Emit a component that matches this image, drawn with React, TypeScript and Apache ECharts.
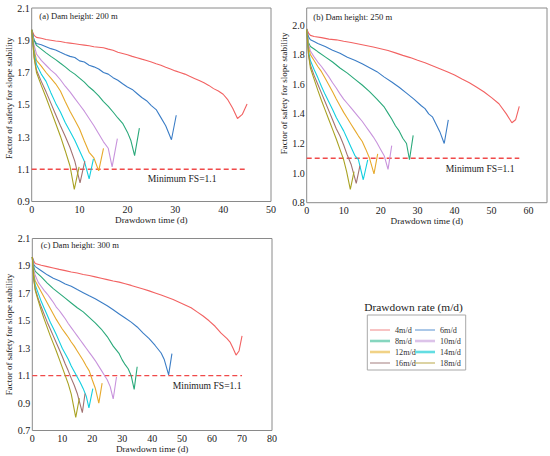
import React, { useEffect, useRef } from "react";
import * as echarts from "echarts";

const FONT = "Liberation Serif, Times New Roman, serif";

const rateNames = ["4m/d", "6m/d", "8m/d", "10m/d", "12m/d", "14m/d", "16m/d", "18m/d"];
const rateColors = ["#f26262", "#3b7dc6", "#2aa97a", "#c893dc", "#e7a92c", "#12cfe0", "#a27272", "#a9a223"];
const legendColors = ["#f5a3a3", "#7eaadc", "#86d6bf", "#dcc3e9", "#f1d286", "#63dde2", "#b99b9b", "#c9bb72"];
const legendWidths = [1.3, 1.3, 2.6, 2.6, 2.6, 2.6, 1.3, 1.3];

const panelTitles = ["(a) Dam height: 200 m", "(b) Dam height: 250 m", "(c) Dam height: 300 m"];
const minFsLabel = "Minimum FS=1.1";
const minFs = 1.1;

// Panel (a): dam height 200 m
const a4 = [[0,1.965],[0.5,1.93],[1,1.918],[2,1.912],[3,1.905],[4,1.9],[5,1.895],[6,1.892],[7,1.886],[8,1.882],[9,1.878],[10,1.874],[11,1.87],[12,1.866],[13,1.86],[14,1.857],[15,1.853],[16,1.845],[17,1.838],[18,1.826],[19,1.818],[20,1.81],[21,1.8],[22,1.792],[23,1.783],[24,1.775],[25,1.765],[26,1.754],[27,1.745],[28,1.733],[29,1.722],[30,1.71],[31,1.7],[32,1.69],[33,1.676],[34,1.663],[35,1.65],[36,1.636],[37,1.62],[38,1.6],[39,1.585],[40,1.565],[41,1.53],[42,1.478],[43,1.415],[44,1.44],[45,1.505]];
const a6 = [[0,1.965],[0.5,1.9],[1,1.88],[2,1.872],[3,1.86],[4,1.848],[5,1.84],[6,1.825],[7,1.812],[8,1.8],[9,1.793],[10,1.772],[11,1.765],[12,1.745],[13,1.735],[14,1.722],[15,1.7],[16,1.69],[17,1.668],[18,1.652],[19,1.63],[20,1.61],[21,1.595],[22,1.57],[23,1.545],[24,1.525],[25,1.495],[26,1.47],[27,1.42],[28,1.37],[29.2,1.283],[30.2,1.435]];
const a8 = [[0,1.965],[0.5,1.9],[1,1.868],[2,1.845],[3,1.822],[4,1.8],[5,1.78],[6,1.757],[7,1.735],[8,1.71],[9,1.69],[10,1.665],[11,1.64],[12,1.61],[13,1.585],[14,1.555],[15,1.52],[16,1.49],[17,1.455],[18,1.418],[19,1.385],[20,1.33],[20.7,1.28],[21.5,1.185],[22.5,1.355]];
const a10 = [[0,1.965],[0.5,1.87],[1,1.815],[2,1.775],[3,1.745],[4,1.715],[5,1.69],[6,1.655],[7,1.615],[8,1.58],[9,1.54],[10,1.5],[11,1.46],[12,1.415],[13,1.37],[14,1.32],[15,1.27],[16,1.23],[16.8,1.115],[17.9,1.29]];
const a12 = [[0,1.965],[0.5,1.84],[1,1.775],[2,1.74],[3,1.7],[4,1.665],[5,1.63],[6,1.585],[7,1.52],[8,1.46],[9,1.405],[10,1.35],[11,1.275],[12,1.205],[13,1.17],[14,1.09],[15,1.23]];
const a14 = [[0,1.965],[0.5,1.82],[1,1.75],[2,1.69],[3,1.645],[4,1.575],[5,1.51],[6,1.455],[7,1.39],[8,1.335],[9,1.28],[10,1.215],[11,1.15],[12,1.04],[12.9,1.165]];
const a16 = [[0,1.965],[0.5,1.8],[1,1.715],[2,1.645],[3,1.58],[4,1.51],[5,1.44],[6,1.37],[7,1.305],[8,1.235],[9,1.15],[10.1,1.015],[11.1,1.15]];
const a18 = [[0,1.965],[0.5,1.79],[1,1.7],[2,1.62],[3,1.545],[4,1.465],[5,1.385],[6,1.305],[7,1.215],[8,1.12],[8.9,0.975],[9.9,1.115]];
const minLineA = [[0, minFs], [45, minFs]];

// Panel (b): dam height 250 m
const b4 = [[0,1.975],[0.5,1.945],[1,1.93],[2,1.922],[4,1.915],[6,1.905],[8,1.9],[10,1.89],[12,1.882],[14,1.872],[16,1.862],[18,1.852],[20,1.84],[22,1.828],[24,1.812],[26,1.795],[28,1.78],[30,1.762],[32,1.745],[34,1.725],[36,1.705],[38,1.685],[40,1.662],[42,1.635],[44,1.61],[46,1.58],[48,1.548],[50,1.51],[52,1.468],[54,1.4],[55.5,1.34],[56.5,1.36],[57.5,1.45]];
const b6 = [[0,1.97],[0.5,1.92],[1,1.9],[2,1.888],[3,1.876],[5,1.855],[7,1.83],[9,1.81],[11,1.782],[13,1.762],[15,1.738],[17,1.712],[19,1.685],[21,1.648],[23,1.615],[25,1.58],[27,1.54],[29,1.5],[31,1.455],[32,1.435],[33,1.4],[34,1.38],[35,1.33],[36,1.28],[37.2,1.2],[38.3,1.36]];
const b8 = [[0,1.97],[0.5,1.88],[1,1.855],[2,1.838],[3,1.82],[5,1.785],[7,1.75],[9,1.71],[11,1.675],[13,1.635],[15,1.595],[17,1.55],[19,1.5],[21,1.445],[22,1.405],[23,1.365],[24,1.32],[25,1.285],[26,1.235],[27,1.2],[27.8,1.09],[28.8,1.255]];
const b10 = [[0,1.97],[0.5,1.87],[1,1.825],[2,1.785],[3,1.75],[4,1.72],[5,1.685],[6,1.65],[7,1.61],[8,1.575],[9,1.535],[10,1.5],[11,1.47],[12,1.44],[13,1.41],[14,1.38],[15,1.35],[16,1.315],[17,1.28],[18,1.245],[19,1.205],[20,1.16],[21,1.115],[22,1.025],[23,1.185]];
const b12 = [[0,1.97],[0.5,1.85],[1,1.8],[2,1.76],[3,1.72],[4,1.685],[5,1.64],[6,1.595],[7,1.55],[8,1.5],[9,1.455],[10,1.41],[11,1.37],[12,1.33],[13,1.29],[14,1.25],[15,1.215],[16,1.16],[17,1.1],[18.2,0.995],[19.2,1.13]];
const b14 = [[0,1.97],[0.5,1.82],[1,1.76],[2,1.7],[3,1.645],[4,1.585],[5,1.53],[6,1.48],[7,1.43],[8,1.375],[9,1.33],[10,1.285],[11,1.23],[12,1.175],[13,1.12],[14,1.09],[15.3,0.955],[16.5,1.09]];
const b16 = [[0,1.97],[0.5,1.8],[1,1.73],[2,1.66],[3,1.6],[4,1.54],[5,1.48],[6,1.42],[7,1.36],[8,1.3],[9,1.25],[10,1.19],[11,1.12],[12,1.06],[13.4,0.93],[14.4,1.05]];
const b18 = [[0,1.97],[0.5,1.8],[1,1.71],[2,1.635],[3,1.56],[4,1.49],[5,1.425],[6,1.36],[7,1.295],[8,1.23],[9,1.16],[10,1.09],[10.8,1.01],[11.8,0.89],[12.8,1.01]];
const minLineB = [[0, minFs], [57.5, minFs]];

// Panel (c): dam height 300 m
const c4 = [[0,1.965],[0.5,1.935],[1,1.918],[3,1.905],[5,1.895],[7,1.885],[9,1.875],[11,1.866],[13,1.856],[15,1.848],[17,1.838],[19,1.83],[21,1.82],[23,1.81],[25,1.8],[27,1.79],[29,1.782],[31,1.77],[33,1.758],[35,1.745],[37,1.732],[39,1.718],[41,1.703],[43,1.688],[45,1.672],[47,1.655],[49,1.635],[51,1.615],[53,1.595],[55,1.565],[57,1.535],[59,1.5],[61,1.46],[63,1.41],[65,1.37],[66,1.345],[67,1.3],[68,1.25],[69,1.28],[70,1.39]];
const c6 = [[0,1.965],[0.5,1.91],[1,1.895],[3,1.865],[5,1.835],[7,1.81],[9,1.792],[11,1.768],[13,1.752],[15,1.728],[17,1.705],[19,1.682],[21,1.66],[23,1.635],[25,1.61],[27,1.58],[29,1.55],[31,1.52],[33,1.49],[35,1.455],[37,1.41],[39,1.37],[41,1.32],[43,1.265],[44,1.22],[45.5,1.105],[46.6,1.26]];
const c8 = [[0,1.965],[0.5,1.89],[1,1.86],[2,1.84],[3,1.82],[5,1.775],[7,1.735],[9,1.7],[11,1.665],[13,1.63],[15,1.595],[17,1.565],[19,1.525],[21,1.485],[23,1.44],[25,1.385],[27,1.315],[29,1.26],[30,1.215],[31,1.18],[32,1.15],[33,1.1],[34,1.0],[35,1.165]];
const c10 = [[0,1.965],[0.5,1.87],[1,1.83],[2,1.78],[3,1.75],[4,1.72],[5,1.695],[6,1.665],[7,1.635],[8,1.6],[9,1.575],[10,1.545],[11,1.515],[12,1.48],[13,1.45],[14,1.42],[15,1.39],[16,1.36],[17,1.33],[18,1.3],[19,1.27],[20,1.24],[21,1.21],[22,1.175],[23,1.14],[24,1.105],[25,1.07],[26,1.02],[27,0.93],[28.1,1.09]];
const c12 = [[0,1.965],[0.5,1.84],[1,1.79],[2,1.75],[3,1.71],[4,1.67],[5,1.63],[6,1.59],[7,1.55],[8,1.51],[9,1.475],[10,1.44],[11,1.41],[12,1.38],[13,1.345],[14,1.315],[15,1.28],[16,1.245],[17,1.21],[18,1.17],[19,1.135],[20,1.07],[21,1.01],[22.2,0.9],[23.3,1.045]];
const c14 = [[0,1.965],[0.5,1.82],[1,1.76],[2,1.7],[3,1.64],[4,1.59],[5,1.54],[6,1.49],[7,1.445],[8,1.4],[9,1.35],[10,1.3],[11,1.26],[12,1.22],[13,1.17],[14,1.13],[15,1.09],[16,1.05],[17,1.005],[18,0.95],[18.9,0.865],[20.2,1.005]];
const c16 = [[0,1.965],[0.5,1.8],[1,1.73],[2,1.66],[3,1.6],[4,1.545],[5,1.49],[6,1.44],[7,1.39],[8,1.34],[9,1.29],[10,1.24],[11,1.185],[12,1.135],[13,1.08],[14,1.03],[15,0.97],[16.7,0.83],[17.6,0.97]];
const c18 = [[0,1.965],[0.5,1.8],[1,1.72],[2,1.645],[3,1.575],[4,1.51],[5,1.45],[6,1.39],[7,1.335],[8,1.28],[9,1.22],[10,1.16],[11,1.1],[12,1.04],[13,0.965],[14.5,0.795],[15.7,0.935]];
const minLineC = [[0, minFs], [70, minFs]];

const panelSeries = [
  [a4, a6, a8, a10, a12, a14, a16, a18],
  [b4, b6, b8, b10, b12, b14, b16, b18],
  [c4, c6, c8, c10, c12, c14, c16, c18],
];
const panelMinLines = [minLineA, minLineB, minLineC];

const xMax = [50, 65, 80];
const yMin = [0.9, 0.8, 0.7];
const yMax = [2.1, 2.115, 2.1];

const grids = [
  { left: 31.7, top: 8, width: 239.3, height: 193.5 },
  { left: 306.7, top: 8, width: 240.3, height: 194.7 },
  { left: 32.3, top: 238.5, width: 239.7, height: 192 },
];
const yNameShift = [13, 24, 0];

export default function App() {
  const ref = useRef<HTMLDivElement>(null);
  useEffect(() => {
    if (!ref.current) return;
    const chart = echarts.init(ref.current, null, { renderer: "svg" });

    const axisText = { fontFamily: FONT, fontSize: 10, color: "#222" };
    const xAxis = grids.map((_, i) => ({
      type: "value",
      gridIndex: i,
      min: 0,
      max: xMax[i],
      interval: 10,
      name: "Drawdown time (d)",
      nameLocation: "middle",
      nameGap: i === 2 ? 14 : 12,
      nameTextStyle: { fontFamily: FONT, fontSize: 9.2, color: "#222" },
      axisLine: { show: false },
      axisTick: { show: false },
      splitLine: { show: false },
      axisLabel: { ...axisText, margin: 3, showMaxLabel: i !== 1 },
    }));
    const yAxis = grids.map((_, i) => ({
      type: "value",
      gridIndex: i,
      min: yMin[i],
      max: yMax[i],
      interval: 0.2,
      name: "Factor of safety for slope stability",
      nameLocation: "middle",
      nameGap: 16,
      nameTextStyle: {
        fontFamily: FONT,
        fontSize: 9,
        color: "#222",
        padding: [0, 0, 0, yNameShift[i]],
      },
      axisLine: { show: false },
      axisTick: { show: false },
      splitLine: { show: false },
      axisLabel: {
        ...axisText,
        margin: 2,
        showMaxLabel: i !== 1,
        formatter: (v: number) => v.toFixed(1),
      },
    }));

    const series: any[] = [];
    panelSeries.forEach((list, p) => {
      list.forEach((data, k) => {
        series.push({
          type: "line",
          name: rateNames[k],
          xAxisIndex: p,
          yAxisIndex: p,
          data,
          symbol: "none",
          lineStyle: { color: rateColors[k], width: 1.1 },
          itemStyle: { color: rateColors[k] },
          z: 3,
        });
      });
      series.push({
        type: "line",
        name: minFsLabel,
        xAxisIndex: p,
        yAxisIndex: p,
        data: panelMinLines[p],
        symbol: "none",
        lineStyle: { color: "#f04a4a", width: 1.4, type: [5, 3] },
        z: 2,
      });
    });

    const legendItem = (k: number) => ({
      name: rateNames[k],
      icon: `path://M0 0H20V${legendWidths[k]}H0Z`,
      itemStyle: { color: legendColors[k] },
    });
    const legendBase = {
      orient: "vertical",
      top: 324.5,
      padding: 0,
      itemWidth: 20,
      itemHeight: 11,
      itemGap: 0,
      selectedMode: false,
      textStyle: { fontFamily: FONT, fontSize: 8.2, color: "#333", lineHeight: 11 },
    };

    const titlePos = [
      [39.3, 16],
      [313.3, 17.3],
      [40.7, 245],
    ];
    const minPos = [
      [147.7, 178.3],
      [445.7, 168.3],
      [172.7, 385.7],
    ];

    const graphic: any[] = [];
    titlePos.forEach(([x, y], i) =>
      graphic.push({
        type: "text",
        x,
        y,
        style: {
          text: panelTitles[i],
          fontFamily: FONT,
          fontSize: 8.6,
          fill: "#222",
          verticalAlign: "middle",
        },
      })
    );
    minPos.forEach(([x, y]) =>
      graphic.push({
        type: "text",
        x,
        y,
        style: {
          text: minFsLabel,
          fontFamily: FONT,
          fontSize: 9.6,
          fill: "#222",
          verticalAlign: "middle",
        },
      })
    );
    graphic.push({
      type: "text",
      x: 413.5,
      y: 306.7,
      style: {
        text: "Drawdown rate (m/d)",
        fontFamily: FONT,
        fontSize: 11.4,
        fill: "#222",
        align: "center",
        verticalAlign: "middle",
      },
    });
    graphic.push({
      type: "rect",
      shape: { x: 367.3, y: 315, width: 98.4, height: 55 },
      style: { fill: "none", stroke: "#a8a8a8", lineWidth: 1 },
    });

    chart.setOption({
      animation: false,
      backgroundColor: "#ffffff",
      grid: grids.map((g) => ({
        ...g,
        show: true,
        borderColor: "#8a8a8a",
        borderWidth: 1,
        backgroundColor: "transparent",
        containLabel: false,
      })),
      xAxis,
      yAxis,
      legend: [
        { ...legendBase, left: 370, data: [0, 2, 4, 6].map(legendItem) },
        { ...legendBase, left: 415, data: [1, 3, 5, 7].map(legendItem) },
      ],
      series,
      graphic,
    });

    return () => chart.dispose();
  }, []);

  return (
    <div
      ref={ref}
      style={{ position: "fixed", left: 0, top: 0, width: 550, height: 456, background: "#fff" }}
    />
  );
}
